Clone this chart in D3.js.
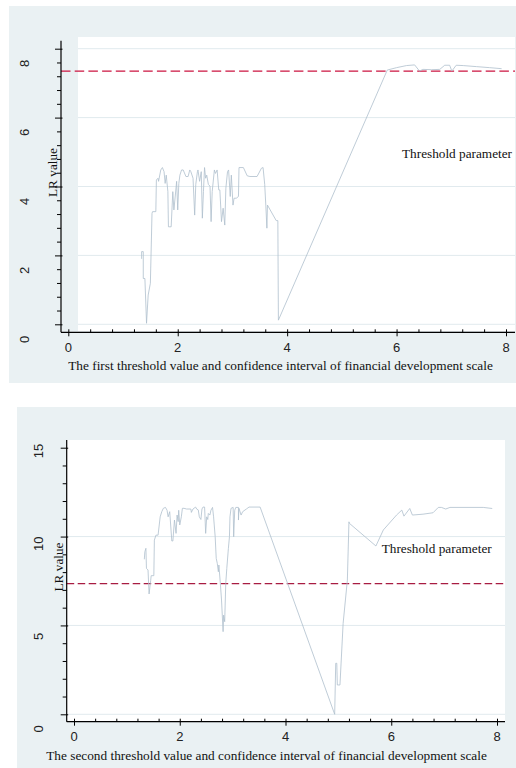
<!DOCTYPE html>
<html>
<head>
<meta charset="utf-8">
<script src="https://cdn.jsdelivr.net/npm/d3@7"></script>
<style>
  html, body { margin: 0; padding: 0; background: #ffffff; }
  svg { display: block; }
</style>
</head>
<body>
<svg id="chart" width="516" height="768"></svg>
<script>
// ---------------- DATA ----------------
const xTickLabels = [0, 2, 4, 6, 8];
const firstYTicks = [0, 2, 4, 6, 8];
const secondYTicks = [0, 5, 10, 15];
const firstCritical = 7.35;
const secondCritical = 7.35;
const annotationText = "Threshold parameter";
const yTitle = "LR value";
const firstXTitle = "The first threshold value and confidence interval of financial development scale";
const secondXTitle = "The second threshold value and confidence interval of financial development scale";

const firstX = [1.34,1.34,1.37,1.37,1.40,1.43,1.46,1.50,1.53,1.54,1.60,1.61,1.64,1.65,1.69,1.72,1.75,1.77,1.79,1.82,
  1.83,1.88,1.91,1.93,1.96,1.98,2.00,2.02,2.04,2.07,2.10,2.15,2.19,2.22,2.24,2.28,2.31,2.33,2.36,2.37,
  2.40,2.43,2.45,2.47,2.49,2.51,2.53,2.56,2.59,2.61,2.63,2.67,2.69,2.72,2.75,2.77,2.80,2.83,2.86,2.88,
  2.91,2.93,2.96,2.98,3.01,3.03,3.07,3.11,3.12,3.20,3.27,3.32,3.45,3.53,3.56,3.59,3.61,3.63,3.64,3.80,
  3.83,3.84,5.83,6.00,6.18,6.33,6.42,6.48,6.64,6.79,6.88,6.97,7.01,7.09,7.22,7.46,7.70,7.92];
const firstLR = [1.90,2.11,2.11,1.33,1.33,0.03,0.85,1.19,3.22,3.27,3.27,4.19,4.24,4.15,4.48,4.55,4.43,4.09,4.33,3.85,
  2.83,2.83,3.85,3.32,3.81,4.15,3.32,4.09,4.33,4.48,4.48,4.29,4.29,4.48,4.43,4.24,3.17,4.06,4.43,4.48,
  4.15,4.43,3.08,3.85,4.55,4.24,4.33,4.06,4.01,2.98,3.85,4.48,4.38,4.48,3.90,3.90,2.98,3.37,2.88,3.95,
  4.43,4.48,3.71,4.33,3.46,3.66,3.66,3.71,4.55,4.55,4.31,4.29,4.29,4.53,4.55,4.06,3.46,2.79,3.46,3.01,
  3.01,0.12,7.38,7.45,7.51,7.53,7.35,7.40,7.39,7.40,7.52,7.52,7.35,7.52,7.51,7.48,7.45,7.42];

const secondX = [1.33,1.34,1.36,1.37,1.40,1.42,1.45,1.46,1.51,1.52,1.55,1.59,1.63,1.66,1.69,1.73,1.76,1.78,1.81,1.85,
  1.87,1.90,1.93,1.95,1.97,1.98,2.00,2.03,2.05,2.08,2.13,2.21,2.22,2.25,2.30,2.32,2.35,2.37,2.40,2.42,
  2.44,2.47,2.49,2.51,2.53,2.54,2.57,2.59,2.62,2.64,2.67,2.69,2.71,2.73,2.74,2.77,2.79,2.82,2.83,2.85,
  2.87,2.89,2.92,2.94,2.95,2.97,3.01,3.02,3.04,3.06,3.11,3.11,3.12,3.16,3.19,3.26,3.31,3.52,4.93,4.95,
  4.97,4.98,5.03,5.09,5.17,5.20,5.21,5.71,5.85,6.10,6.20,6.24,6.35,6.40,6.60,6.79,6.89,6.95,7.03,7.11,
  7.74,7.91];
const secondLR = [8.72,9.15,9.34,8.21,8.12,6.77,7.52,7.80,7.80,9.80,10.08,10.08,11.11,11.40,11.59,11.64,11.48,11.11,11.40,9.75,
  9.75,10.93,10.18,11.21,10.84,11.48,10.65,11.11,11.59,11.59,11.55,11.55,11.36,11.55,11.66,11.55,11.50,11.11,10.96,11.55,
  11.66,11.66,10.18,11.11,10.96,11.30,11.21,11.48,11.64,11.11,9.99,8.77,8.49,8.02,8.40,7.27,6.43,4.65,5.58,5.21,
  7.37,8.21,9.34,9.99,11.11,11.59,11.64,9.99,11.48,11.64,11.64,10.93,11.59,11.21,11.40,11.55,11.66,11.66,0.00,2.87,
  2.87,1.65,1.65,5.12,7.55,10.83,10.74,9.47,10.37,11.21,11.49,11.15,11.58,11.21,11.26,11.34,11.64,11.64,11.55,11.64,
  11.64,11.58];

// ---------------- LAYOUT ----------------
const BG = "#eaf1f3";
const GRID = "#e1eaee";
const LINE = "#aebfcd";
const SANS = "'Liberation Sans', Arial, sans-serif";
const SERIF = "'Liberation Serif', 'Times New Roman', serif";

const svg = d3.select("#chart");

function fitText(sel, target) {
  const w = sel.node().getComputedTextLength();
  const fs = parseFloat(sel.attr("font-size"));
  sel.attr("font-size", (fs * target / w).toFixed(2));
}

function drawPanel(cfg) {
  const g = svg.append("g");
  g.append("rect").attr("x", cfg.bg[0]).attr("y", cfg.bg[1]).attr("width", cfg.bg[2]).attr("height", cfg.bg[3]).attr("fill", BG);
  g.append("rect").attr("x", cfg.plot[0]).attr("y", cfg.plot[1])
    .attr("width", cfg.plot[2] - cfg.plot[0]).attr("height", cfg.plot[3] - cfg.plot[1]).attr("fill", "#ffffff");

  const x = d3.scaleLinear().domain([0, 8]).range(cfg.xRange);
  const y = d3.scaleLinear().domain(cfg.yDomain).range(cfg.yRange);
  const yLab = d3.scaleLinear().domain(cfg.yDomain).range(cfg.yLabelRange);

  // gridlines
  g.append("g").selectAll("line").data(cfg.grid).join("line")
    .attr("x1", cfg.plot[0]).attr("x2", cfg.plot[2])
    .attr("y1", d => y(d)).attr("y2", d => y(d))
    .attr("stroke", GRID).attr("stroke-width", 1);

  // critical value line
  g.append("line").attr("x1", cfg.axisX).attr("x2", cfg.plot[2])
    .attr("y1", y(cfg.crit)).attr("y2", y(cfg.crit))
    .attr("stroke", cfg.critColor).attr("stroke-width", 1.3).attr("stroke-dasharray", cfg.dash);

  // data line
  const pts = cfg.xs.map((v, i) => [v, cfg.ys[i]]);
  g.append("path").datum(pts)
    .attr("d", d3.line().x(d => x(d[0])).y(d => y(d[1])))
    .attr("fill", "none").attr("stroke", LINE).attr("stroke-width", 0.8).attr("stroke-linejoin", "round");

  // Y axis (ticks)
  const yMinor = d3.range(cfg.yDomain[0], cfg.yTop + 1e-9, cfg.yMinorStep).filter(v => !cfg.yTicks.some(t => Math.abs(t - v) < 1e-6));
  const yAx = g.append("g").attr("transform", `translate(${cfg.axisX},0)`);
  yAx.call(d3.axisLeft(y).tickValues(cfg.yTicks).tickSize(6).tickFormat("").tickSizeOuter(0));
  yAx.select(".domain").remove();
  yAx.selectAll(".tick line").attr("x2", -6).attr("x1", 1.5).attr("stroke", "#000");
  yAx.append("g").call(d3.axisLeft(y).tickValues(yMinor).tickSize(4).tickFormat("").tickSizeOuter(0))
    .call(s => s.select(".domain").remove())
    .selectAll(".tick line").attr("stroke", "#000");
  g.append("line").attr("x1", cfg.axisX).attr("x2", cfg.axisX).attr("y1", cfg.yAxisTop).attr("y2", cfg.axisY)
    .attr("stroke", "#000").attr("stroke-width", 1.2);

  // Y tick labels (rotated)
  g.append("g").selectAll("text").data(cfg.yTicks).join("text")
    .attr("transform", d => `translate(${cfg.yLabelX},${yLab(d)}) rotate(-90)`)
    .attr("text-anchor", "middle").attr("dominant-baseline", "central")
    .attr("font-family", SANS).attr("font-size", 13).attr("fill", "#222")
    .text(d => d);

  // X axis
  const xMinor = d3.range(0, 8.0001, 0.4).filter(v => !xTickLabels.some(t => Math.abs(t - v) < 1e-6));
  const xAx = g.append("g").attr("transform", `translate(0,${cfg.axisY})`);
  xAx.call(d3.axisBottom(x).tickValues(xTickLabels).tickSize(4).tickFormat("").tickSizeOuter(0));
  xAx.select(".domain").remove();
  xAx.selectAll(".tick line").attr("y1", -3).attr("y2", 4).attr("stroke", "#000");
  xAx.append("g").call(d3.axisBottom(x).tickValues(xMinor).tickSize(3).tickFormat("").tickSizeOuter(0))
    .call(s => s.select(".domain").remove())
    .selectAll(".tick line").attr("y1", -3).attr("y2", 0).attr("stroke", "#000");
  g.append("line").attr("x1", cfg.axisX).attr("x2", cfg.plot[2]).attr("y1", cfg.axisY).attr("y2", cfg.axisY)
    .attr("stroke", "#000").attr("stroke-width", 1.2);

  g.append("g").selectAll("text").data(xTickLabels).join("text")
    .attr("x", d => x(d)).attr("y", cfg.xLabelY)
    .attr("text-anchor", "middle").attr("dominant-baseline", "central")
    .attr("font-family", SANS).attr("font-size", 13).attr("fill", "#222")
    .text(d => d);

  // titles
  const xt = g.append("text").attr("x", cfg.xTitle[0]).attr("y", cfg.xTitle[1])
    .attr("text-anchor", "middle").attr("dominant-baseline", "central")
    .attr("font-family", SERIF).attr("font-size", 12).attr("fill", "#111").text(cfg.xTitleText);
  fitText(xt, cfg.xTitle[2]);

  const yt = g.append("text").attr("transform", `translate(${cfg.yTitle[0]},${cfg.yTitle[1]}) rotate(-90)`)
    .attr("text-anchor", "middle").attr("dominant-baseline", "central")
    .attr("font-family", SERIF).attr("font-size", 12).attr("fill", "#111").text(yTitle);
  fitText(yt, cfg.yTitle[2]);

  const an = g.append("text").attr("x", cfg.annot[0]).attr("y", cfg.annot[1])
    .attr("dominant-baseline", "central")
    .attr("font-family", SERIF).attr("font-size", 12).attr("fill", "#111").text(annotationText);
  fitText(an, cfg.annot[2]);
}

drawPanel({
  bg: [9, 6, 507, 377],
  plot: [78, 37, 515, 331],
  axisX: 61, axisY: 332.3, yAxisTop: 40.7,
  xRange: [68.3, 506],
  yDomain: [0, 8], yTop: 8, yRange: [324.3, 48.7], yLabelRange: [339.5, 63.5],
  yTicks: firstYTicks, yMinorStep: 0.4, grid: [0, 2, 4, 6, 8],
  yLabelX: 24, xLabelY: 347.7,
  crit: firstCritical, critColor: "#cc1540", dash: "9.5,4.2",
  xs: firstX, ys: firstLR,
  xTitle: [280.5, 365.7, 425], xTitleText: firstXTitle,
  yTitle: [52, 172.5, 49],
  annot: [402, 153, 110]
});

drawPanel({
  bg: [17, 407, 499, 361],
  plot: [66.7, 440, 505, 721],
  axisX: 66.7, axisY: 721.7, yAxisTop: 440,
  xRange: [74, 497],
  yDomain: [0, 15], yTop: 15, yRange: [714.3, 447.7], yLabelRange: [729, 451],
  yTicks: secondYTicks, yMinorStep: 1, grid: [0, 5, 10],
  yLabelX: 38, xLabelY: 736.7,
  crit: secondCritical, critColor: "#a81c42", dash: "7.5,3.5",
  xs: secondX, ys: secondLR,
  xTitle: [266.5, 755, 441], xTitleText: secondXTitle,
  yTitle: [58, 567, 49],
  annot: [381.7, 548.5, 110]
});
</script>
</body>
</html>
